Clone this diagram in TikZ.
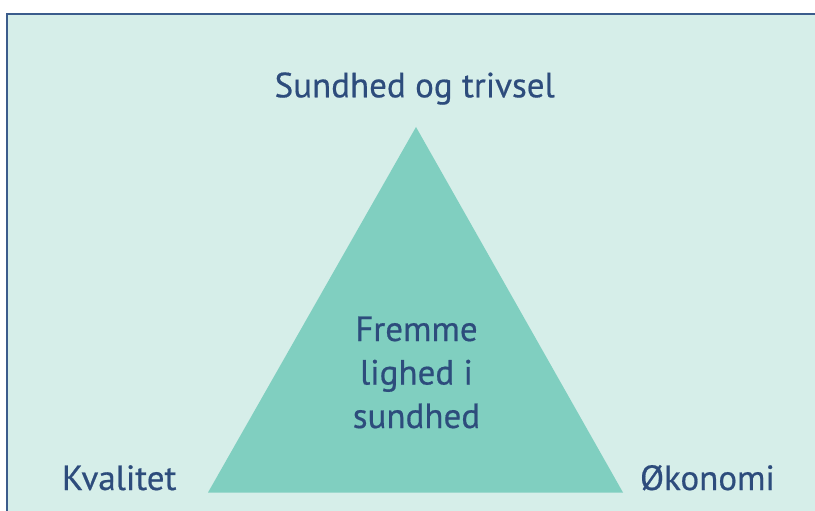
\documentclass[tikz,border=0pt]{standalone}
\usepackage{fontspec}
\setmainfont{PT Sans}
\newfontfamily\lblfont[FakeBold=0.5]{PT Sans}
\definecolor{panelbg}{HTML}{D6EEE9}
\definecolor{trifill}{HTML}{80CFC0}
\definecolor{txtblue}{HTML}{2D4C7C}
\definecolor{borderblue}{HTML}{3B5C8C}
\tikzset{
  lbl/.style={anchor=base, text=txtblue, font=\lblfont\fontsize{35}{38}\selectfont, inner sep=0pt},
}
\begin{document}
\begin{tikzpicture}[x=1pt,y=-1pt]
\useasboundingbox (0,0) rectangle (815,511);
\fill[white] (0,0) rectangle (815,511);
\fill[panelbg] (7,14) rectangle (815,511);
\draw[borderblue, line width=1.2pt] (7,511) -- (7,14) -- (815,14);
\coordinate (apex) at (416,127);
\coordinate (bl) at (208,492.5);
\coordinate (br) at (623,492.5);
\fill[trifill] (apex) -- (bl) -- (br) -- cycle;
\node[lbl] (top) at (414.7,97.3) {Sundhed og trivsel};
\node[lbl] (kval) at (119.2,490) {Kvalitet};
\node[lbl] (oko) at (707.5,490) {Økonomi};
\node[lbl] (c1) at (416.5,341) {Fremme};
\node[lbl] (c2) at (416.5,384.5) {lighed i};
\node[lbl] (c3) at (416.5,428) {sundhed};
\end{tikzpicture}
\end{document}
